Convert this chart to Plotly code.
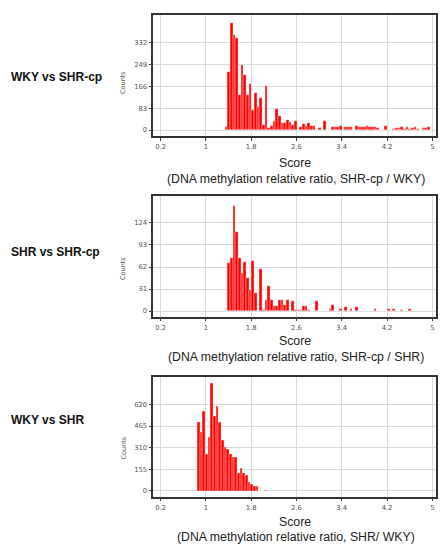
import numpy as np
import plotly.graph_objects as go

# ---- data (histograms of score, counts per bin) ----
bin_width = 0.047
x_tick_vals = [0.2, 1, 1.8, 2.6, 3.4, 4.2, 5]
x_tick_text = ["0.2", "1", "1.8", "2.6", "3.4", "4.2", "5"]

wky_shrcp_start = 1.338
wky_shrcp_counts = [12, 220, 406, 361, 350, 132, 248, 207, 132, 176, 75, 141, 88, 123, 19, 166,
                    8, 16, 34, 78, 53, 28, 25, 38, 31, 19, 34, 0, 10, 24, 15, 28, 15, 15, 0, 8,
                    0, 34, 0, 0, 10, 10, 12, 16, 0, 10, 12, 10, 0, 16, 10, 10, 12, 16, 10, 12,
                    10, 7, 0, 0, 15, 0, 0, 5, 6, 8, 12, 5, 12, 5, 6, 12, 5, 0, 7, 6, 10, 0]
wky_shrcp_yticks = [0, 83, 166, 249, 332]

shr_shrcp_start = 1.338
shr_shrcp_counts = [0, 68, 74, 148, 111, 74, 54, 69, 47, 30, 70, 26, 0, 59, 1, 16, 35, 16, 7, 7,
                    16, 16, 8, 16, 0, 14, 2, 2, 2, 7, 7, 2, 0, 0, 14, 0, 0, 0, 0, 3, 8, 0, 0, 3,
                    0, 5, 0, 3, 0, 5, 0, 0, 0, 0, 0, 0, 3, 0, 0, 0, 0, 3, 0, 3, 0, 0, 2, 0, 0, 3]
shr_shrcp_yticks = [0, 31, 62, 93, 124]

wky_shr_start = 0.848
wky_shr_counts = [490, 422, 572, 265, 384, 772, 532, 605, 492, 363, 312, 298, 266, 240, 242,
                  130, 161, 126, 115, 63, 47, 37, 37, 0, 0, 7]
wky_shr_yticks = [0, 155, 310, 465, 620]

panel_labels = ["WKY vs SHR-cp", "SHR vs SHR-cp", "WKY vs SHR"]
subtitles = ["(DNA methylation relative ratio, SHR-cp / WKY)",
             "(DNA methylation relative ratio, SHR-cp / SHR)",
             "(DNA methylation relative ratio, SHR/ WKY)"]
y_ticks = [wky_shrcp_yticks, shr_shrcp_yticks, wky_shr_yticks]
y_ranges = [[-22.7, 436], [-8, 162], [-41, 814]]

W, H = 441, 544
# pixel geometry of the plot boxes (top, bottom)
boxes = [(15, 136), (196, 316.7), (377.3, 496.7)]
x_left, x_right = 153.3, 435.7

series = [(wky_shrcp_start, wky_shrcp_counts),
          (shr_shrcp_start, shr_shrcp_counts),
          (wky_shr_start, wky_shr_counts)]

fig = go.Figure()
layout = dict(
    width=W, height=H, margin=dict(l=0, r=0, t=0, b=0),
    paper_bgcolor="white", plot_bgcolor="white", showlegend=False,
    bargap=0, hovermode=False,
)
annotations = []
tick_font = dict(family="DejaVu Sans", size=6.8, color="#555555")

for i, ((start, counts), (top, bot)) in enumerate(zip(series, boxes)):
    n = i + 1
    xa = "x" if n == 1 else f"x{n}"
    ya = "y" if n == 1 else f"y{n}"
    centers = start + bin_width * (np.arange(len(counts)) + 0.5)
    fig.add_trace(go.Bar(
        x=centers, y=counts, width=bin_width, xaxis=xa, yaxis=ya,
        marker=dict(color="#ff0000", line=dict(color="rgba(255,255,255,0.75)", width=0.5)),
    ))
    ydom = [1 - bot / H, 1 - top / H]
    layout[f"xaxis{'' if n == 1 else n}"] = dict(
        domain=[x_left / W, x_right / W], anchor=ya, range=[0.069, 5.06],
        tickmode="array", tickvals=x_tick_vals, ticktext=x_tick_text,
        showgrid=True, gridcolor="#dadada", gridwidth=1,
        showline=True, linecolor="#333333", linewidth=1.5, mirror=True,
        ticks="outside", ticklen=3, tickcolor="#444444", tickwidth=1,
        tickfont=tick_font, zeroline=False,
    )
    layout[f"yaxis{'' if n == 1 else n}"] = dict(
        domain=ydom, anchor=xa, range=y_ranges[i],
        tickmode="array", tickvals=y_ticks[i],
        showgrid=True, gridcolor="#dadada", gridwidth=1,
        showline=True, linecolor="#333333", linewidth=1.5, mirror=True,
        ticks="outside", ticklen=3, tickcolor="#444444", tickwidth=1,
        tickfont=tick_font, zeroline=False,
    )
    # left bold label
    label_y = [77, 252, 420][i]
    annotations.append(dict(
        text=f"<b>{panel_labels[i]}</b>", x=9 / W, y=1 - label_y / H,
        xref="paper", yref="paper", xanchor="left", yanchor="middle", showarrow=False,
        font=dict(family="Liberation Sans, Arial", size=12, color="#111111"),
    ))
    # Counts axis title
    counts_y = [82, 268, 447.5][i]
    annotations.append(dict(
        text="Counts", x=123 / W, y=1 - counts_y / H, textangle=-90,
        xref="paper", yref="paper", xanchor="center", yanchor="middle", showarrow=False,
        font=dict(family="DejaVu Sans", size=6.5, color="#555555"),
    ))
    score_y = [162.5, 341, 521.5][i]
    annotations.append(dict(
        text="Score", x=294.5 / W, y=1 - score_y / H,
        xref="paper", yref="paper", xanchor="center", yanchor="middle", showarrow=False,
        font=dict(family="Liberation Sans, Arial", size=12.3, color="#222222"),
    ))
    sub_y = [179, 357, 536.5][i]
    annotations.append(dict(
        text=subtitles[i], x=295.5 / W, y=1 - sub_y / H,
        xref="paper", yref="paper", xanchor="center", yanchor="middle", showarrow=False,
        font=dict(family="Liberation Sans, Arial", size=12.3, color="#222222"),
    ))

layout["annotations"] = annotations
fig.update_layout(**layout)
fig.write_html("out.html", config={"displayModeBar": False},
               post_script="document.body.style.margin='0px';document.body.style.overflow='hidden';")
